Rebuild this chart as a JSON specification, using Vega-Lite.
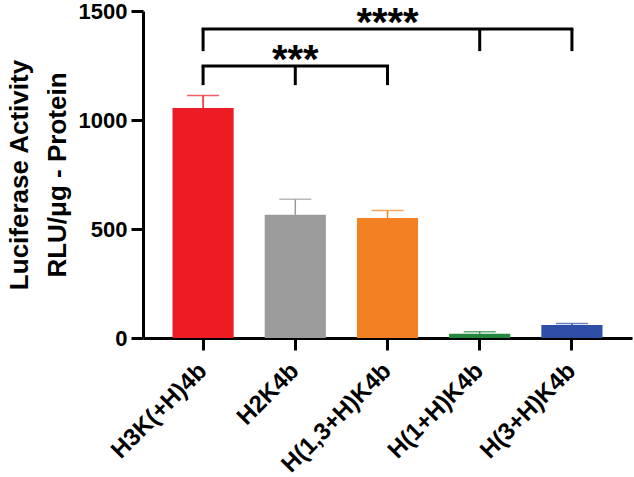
{
  "$schema": "https://vega.github.io/schema/vega-lite/v6.json",
  "width": 489,
  "height": 327,
  "autosize": "none",
  "padding": {"left": 143, "top": 11, "right": 2, "bottom": 139},
  "background": "white",
  "config": {
    "view": {"stroke": null},
    "font": "Liberation Sans",
    "axis": {"grid": false, "domainColor": "black", "tickColor": "black", "domainWidth": 3, "tickWidth": 3, "labelColor": "black", "titleColor": "black", "labelFont": "Liberation Sans", "titleFont": "Liberation Sans", "labelFontWeight": "bold", "titleFontWeight": "bold"}
  },
  "datasets": {
    "bars": [
      {"name": "H3K(+H)4b", "value": 1055, "upper": 1112},
      {"name": "H2K4b", "value": 565, "upper": 636},
      {"name": "H(1,3+H)K4b", "value": 550, "upper": 585},
      {"name": "H(1+H)K4b", "value": 20, "upper": 29},
      {"name": "H(3+H)K4b", "value": 60, "upper": 67}
    ],
    "hbrackets": [
      {"from": "H3K(+H)4b", "to": "H(3+H)K4b", "level": 1417},
      {"from": "H3K(+H)4b", "to": "H(1,3+H)K4b", "level": 1248}
    ],
    "vbrackets": [
      {"pos": "H3K(+H)4b", "top": 1417, "bottom": 1316},
      {"pos": "H(1+H)K4b", "top": 1417, "bottom": 1316},
      {"pos": "H(3+H)K4b", "top": 1417, "bottom": 1316},
      {"pos": "H3K(+H)4b", "top": 1248, "bottom": 1160},
      {"pos": "H2K4b", "top": 1248, "bottom": 1160},
      {"pos": "H(1,3+H)K4b", "top": 1248, "bottom": 1160}
    ],
    "stars": [
      {"pos": "H(1,3+H)K4b", "level": 1385, "label": "****"},
      {"pos": "H2K4b", "level": 1216, "label": "***"}
    ]
  },
  "layer": [
    {
      "data": {"name": "bars"},
      "mark": {"type": "bar"},
      "encoding": {
        "x": {
          "field": "name", "type": "nominal", "sort": null,
          "scale": {"domain": ["H3K(+H)4b", "H2K4b", "H(1,3+H)K4b", "H(1+H)K4b", "H(3+H)K4b"], "paddingInner": 0.337, "paddingOuter": 0.32},
          "axis": {"title": null, "labelAngle": -45, "labelAlign": "right", "labelBaseline": "middle", "labelFontSize": 24, "tickSize": 12, "labelPadding": 17, "labelDx": -3}
        },
        "y": {
          "field": "value", "type": "quantitative",
          "scale": {"domain": [0, 1500], "nice": false},
          "axis": {"values": [0, 500, 1000, 1500], "format": "d", "title": ["Luciferase Activity", "RLU/μg - Protein"], "titleFontSize": 26, "titleLineHeight": 38, "labelFontSize": 22, "tickSize": 12, "labelPadding": 4, "titlePadding": 8}
        },
        "color": {
          "field": "name", "type": "nominal",
          "scale": {"domain": ["H3K(+H)4b", "H2K4b", "H(1,3+H)K4b", "H(1+H)K4b", "H(3+H)K4b"], "range": ["#ED1C24", "#9B9B9B", "#F28123", "#24873E", "#2F4FA6"]},
          "legend": null
        }
      }
    },
    {
      "data": {"name": "bars"},
      "mark": {"type": "rule", "strokeWidth": 1.5},
      "encoding": {
        "x": {"field": "name", "type": "nominal", "sort": null},
        "y": {"field": "value", "type": "quantitative"},
        "y2": {"field": "upper"},
        "color": {"field": "name", "type": "nominal", "legend": null}
      }
    },
    {
      "data": {"name": "bars"},
      "mark": {"type": "tick", "size": 32, "thickness": 1.5},
      "encoding": {
        "x": {"field": "name", "type": "nominal", "sort": null},
        "y": {"field": "upper", "type": "quantitative"},
        "color": {"field": "name", "type": "nominal", "legend": null}
      }
    },
    {
      "data": {"name": "hbrackets"},
      "mark": {"type": "rule", "strokeWidth": 3, "color": "black", "strokeCap": "square"},
      "encoding": {
        "x": {"field": "from", "type": "nominal", "sort": null},
        "x2": {"field": "to"},
        "y": {"field": "level", "type": "quantitative"}
      }
    },
    {
      "data": {"name": "vbrackets"},
      "mark": {"type": "rule", "strokeWidth": 3, "color": "black"},
      "encoding": {
        "x": {"field": "pos", "type": "nominal", "sort": null},
        "y": {"field": "top", "type": "quantitative"},
        "y2": {"field": "bottom"}
      }
    },
    {
      "data": {"name": "stars"},
      "mark": {"type": "text", "fontSize": 40, "fontWeight": "bold", "baseline": "alphabetic", "align": "center", "color": "black"},
      "encoding": {
        "x": {"field": "pos", "type": "nominal", "sort": null},
        "y": {"field": "level", "type": "quantitative"},
        "text": {"field": "label"}
      }
    }
  ]
}
